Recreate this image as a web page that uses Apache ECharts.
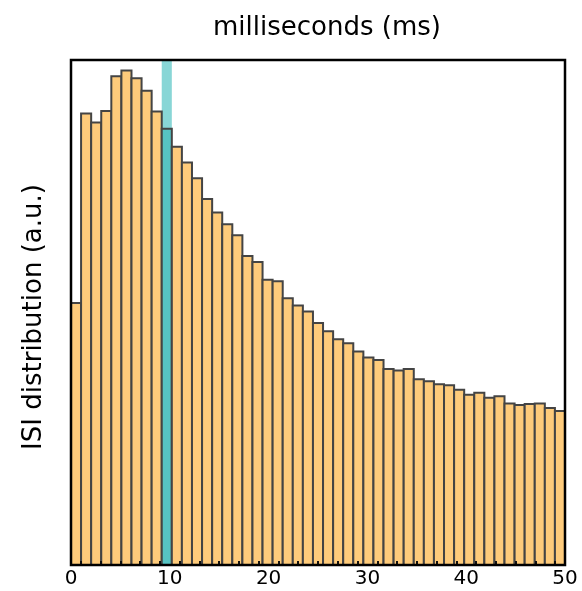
<!DOCTYPE html>
<html>
<head>
<meta charset="utf-8">
<script src="https://cdn.jsdelivr.net/npm/echarts@6/dist/echarts.min.js"></script>
<style>
  html, body { margin: 0; padding: 0; background: #ffffff; }
  #chart { width: 582px; height: 591px; }
</style>
</head>
<body>
<div id="chart"></div>
<script>
// Inter-spike interval histogram: 49 equal bins spanning 0–50 ms
const rangeMs = [0, 50];
const isiCounts = [
  51.9, 89.4, 87.6, 89.9, 96.8, 97.9, 96.4, 93.9, 89.8, 86.4,
  82.8, 79.7, 76.6, 72.5, 69.8, 67.5, 65.3, 61.2, 60.0, 56.5,
  56.2, 52.8, 51.4, 50.2, 47.9, 46.3, 44.7, 43.9, 42.3, 41.1,
  40.6, 38.8, 38.5, 38.8, 36.8, 36.4, 35.8, 35.6, 34.7, 33.7,
  34.1, 33.1, 33.4, 32.0, 31.7, 31.9, 32.0, 31.1, 30.5
];
const highlightBin = 9;
const xMinorTicks = [1, 3, 5, 7, 9, 11, 13, 15, 17, 19, 21, 23, 25, 27, 29, 31, 33, 35, 37, 39, 41, 43, 45, 47, 49];

const binWidth = (rangeMs[1] - rangeMs[0]) / isiCounts.length;

const barFill = '#FECB7B';
const barStroke = '#444444';
const highlightFill = '#56C3C3';
const bandFill = '#88D6D6';

const chart = echarts.init(document.getElementById('chart'), null, { renderer: 'canvas' });

chart.setOption({
  animation: false,
  backgroundColor: '#ffffff',
  grid: {
    left: 71, right: 17, top: 60, bottom: 26,
    show: true, borderColor: '#000000', borderWidth: 2.5, backgroundColor: 'transparent',
    z: 10
  },
  xAxis: {
    type: 'value',
    min: rangeMs[0], max: rangeMs[1], interval: 10,
    z: 8,
    axisLine: { show: false },
    splitLine: { show: false },
    axisTick: {
      show: true, inside: true, length: 4,
      customValues: xMinorTicks,
      lineStyle: { color: '#111111', width: 2 }
    },
    axisLabel: {
      color: '#000000', fontSize: 20, fontFamily: 'DejaVu Sans', margin: 4
    }
  },
  yAxis: {
    type: 'value', min: 0, max: 100,
    axisLine: { show: false }, axisTick: { show: false },
    axisLabel: { show: false }, splitLine: { show: false }
  },
  series: [
    {
      // full-height band marking the highlighted bin
      type: 'custom',
      z: 1,
      data: [[highlightBin]],
      renderItem: function (params, api) {
        const b = api.value(0);
        const p0 = api.coord([b * binWidth, 100]);
        const p1 = api.coord([(b + 1) * binWidth, 0]);
        return {
          type: 'rect',
          shape: { x: p0[0], y: p0[1], width: p1[0] - p0[0], height: p1[1] - p0[1] },
          style: { fill: bandFill }
        };
      }
    },
    {
      type: 'custom',
      z: 2,
      data: isiCounts.map(function (v, i) { return [i, v]; }),
      encode: { x: 0, y: 1 },
      renderItem: function (params, api) {
        const i = api.value(0);
        const v = api.value(1);
        const base = api.coord([i * binWidth, 0]);
        const top = api.coord([(i + 1) * binWidth, v]);
        return {
          type: 'rect',
          shape: { x: base[0], y: top[1], width: top[0] - base[0], height: base[1] - top[1] },
          style: {
            fill: i === highlightBin ? highlightFill : barFill,
            stroke: barStroke,
            lineWidth: 2
          }
        };
      }
    }
  ],
  graphic: [
    {
      type: 'text', x: 327, y: 28,
      style: {
        text: 'milliseconds (ms)', fill: '#000000',
        font: '26px "DejaVu Sans"', textAlign: 'center', textVerticalAlign: 'middle'
      }
    },
    {
      type: 'text', x: 34, y: 317, rotation: Math.PI / 2,
      style: {
        text: 'ISI distribution (a.u.)', fill: '#000000',
        font: '26px "DejaVu Sans"', textAlign: 'center', textVerticalAlign: 'middle'
      }
    }
  ]
});
</script>
</body>
</html>
